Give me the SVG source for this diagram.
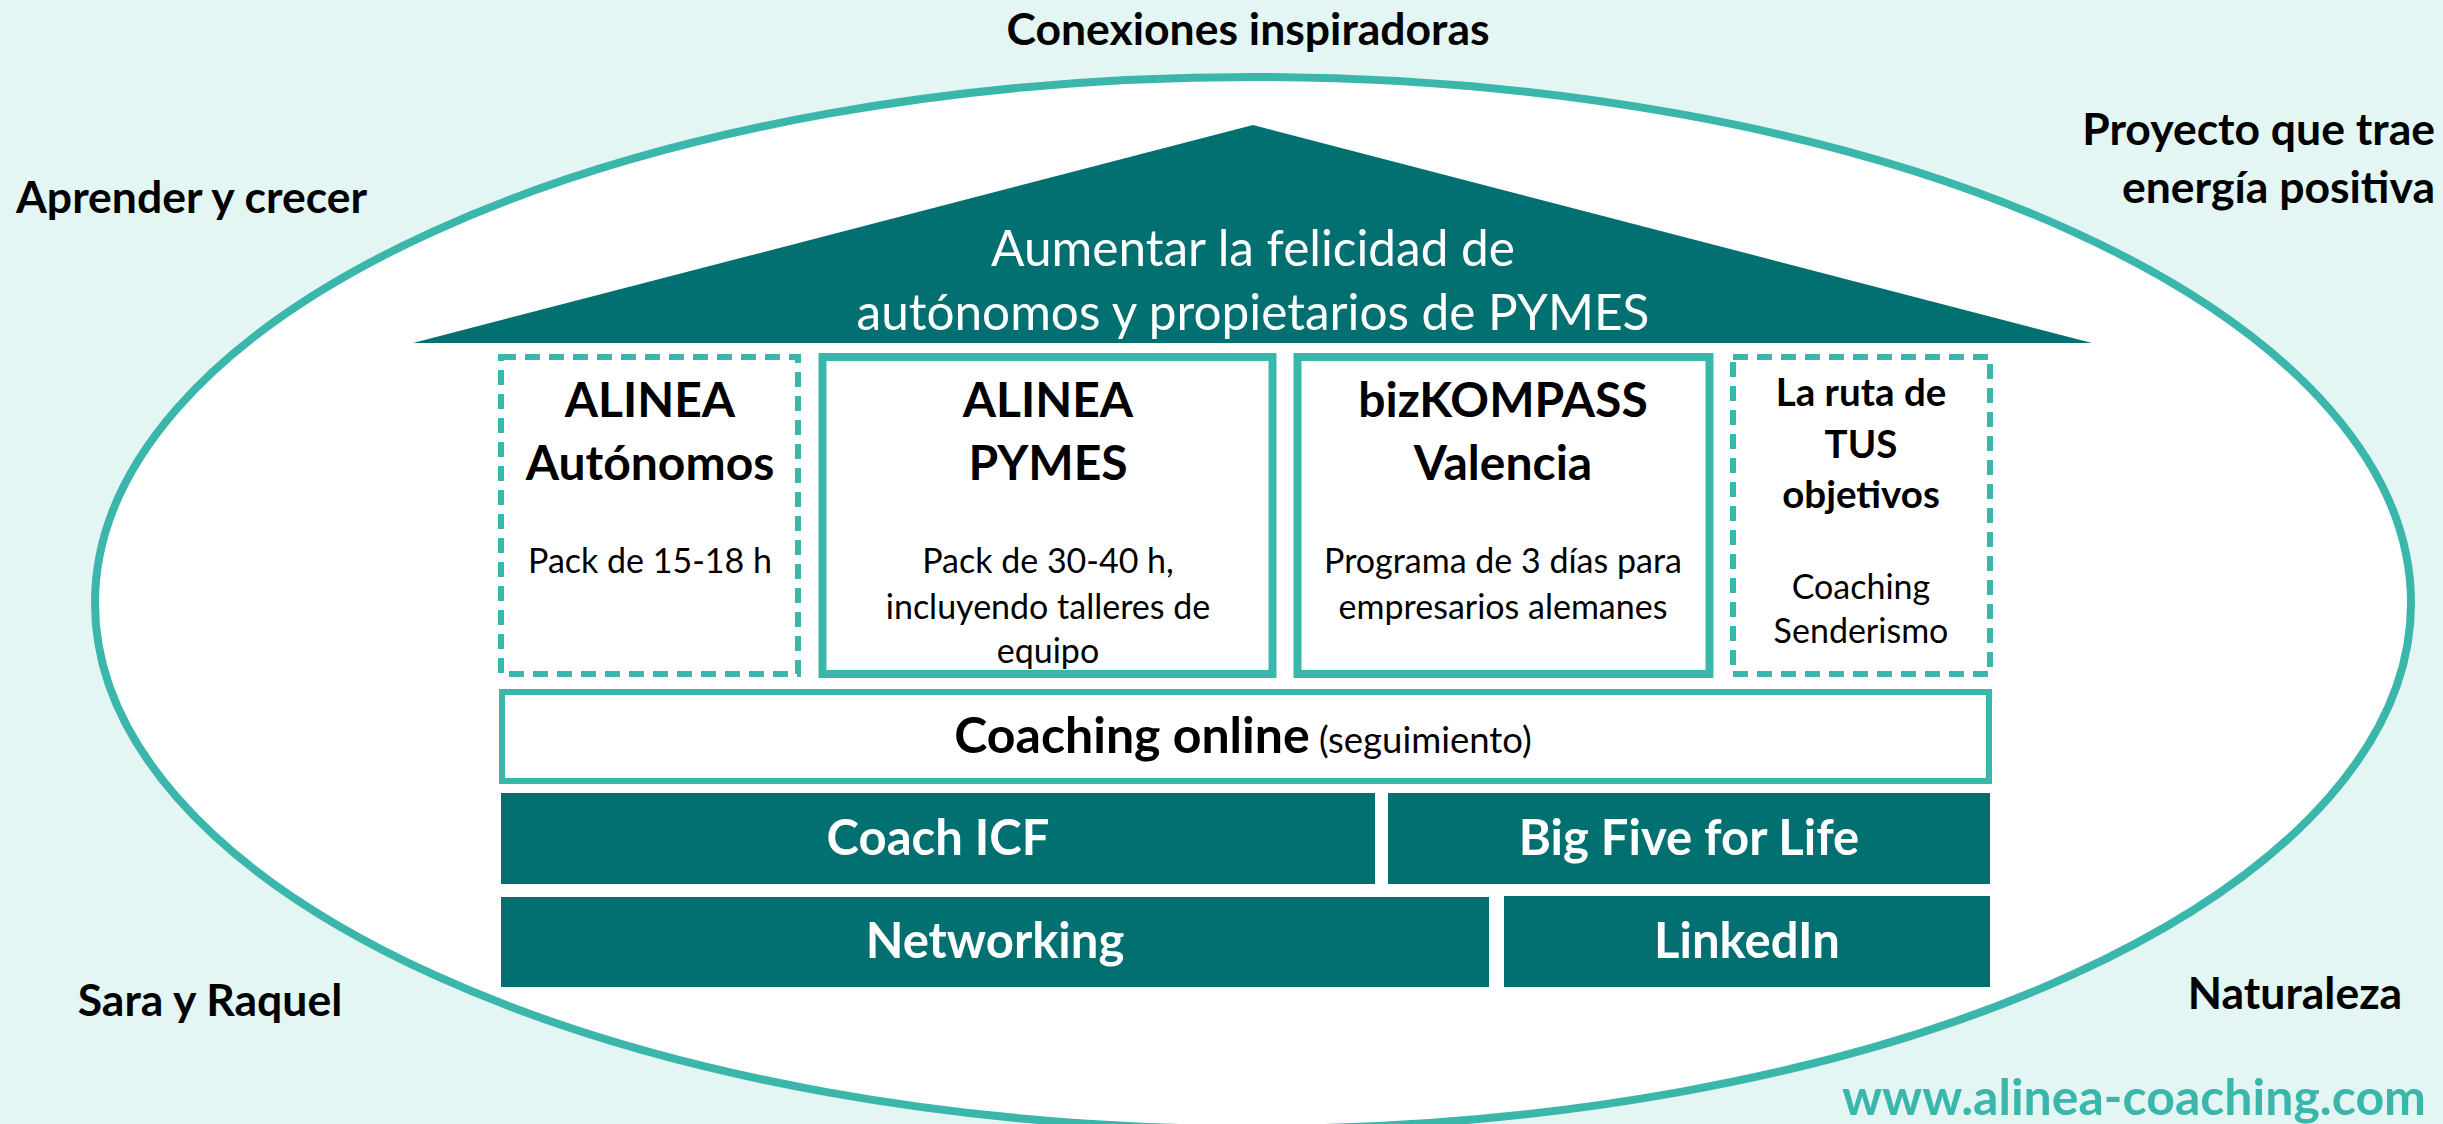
<svg xmlns="http://www.w3.org/2000/svg" width="2443" height="1124" viewBox="0 0 2443 1124">
<style>
text{font-family:Lato,"Open Sans","DejaVu Sans",sans-serif}
.b{font-weight:bold;fill:#000}
.r{font-weight:normal;fill:#000}
.lbl{font-size:44.5px}
.ttl{font-size:48px}
.sub{font-size:34px}
.wt{fill:#fff}
.dash{fill:#fff;stroke:#3AB6AB;stroke-width:6;stroke-dasharray:15 9}
.solid{fill:#fff;stroke:#3AB6AB;stroke-width:8}
.dark{fill:#026F71}
.dk{font-weight:bold;font-size:49px;fill:#fff}
</style>
<rect x="0" y="0" width="2443" height="1124" fill="#E3F6F3"/>
<g id="ellipse"><ellipse cx="1253" cy="603" rx="1158" ry="526" fill="#fff" stroke="#3AB6AB" stroke-width="8"/></g>
<g id="labels">
<text class="b lbl" x="1248" y="45" text-anchor="middle">Conexiones inspiradoras</text>
<text class="b lbl" x="16" y="213">Aprender y crecer</text>
<text class="b lbl" x="2435" y="145" text-anchor="end">Proyecto que trae</text>
<text class="b lbl" x="2435" y="203" text-anchor="end">energía positiva</text>
<text class="b lbl" x="210" y="1016" text-anchor="middle">Sara y Raquel</text>
<text class="b lbl" x="2295" y="1009" text-anchor="middle">Naturaleza</text>
<text x="2426" y="1115" text-anchor="end" font-weight="bold" font-size="50" fill="#3AB6AB">www.alinea-coaching.com</text>
</g>
<g id="roof">
<polygon class="dark" points="413,343 1253,125 2092,343"/>
<text class="wt" x="1253" y="266" text-anchor="middle" font-size="49.5">Aumentar la felicidad de</text>
<text class="wt" x="1253" y="330" text-anchor="middle" font-size="49.5">autónomos y propietarios de PYMES</text>
</g>
<g id="alinea-autonomos">
<rect class="dash" x="501" y="357" width="297" height="317"/>
<text class="b ttl" x="650" y="417" text-anchor="middle">ALINEA</text>
<text class="b ttl" x="650" y="480" text-anchor="middle">Autónomos</text>
<text class="r sub" x="650" y="573" text-anchor="middle">Pack de 15-18 h</text>
</g>
<g id="alinea-pymes">
<rect class="solid" x="822.5" y="357" width="450" height="317"/>
<text class="b ttl" x="1048" y="417" text-anchor="middle">ALINEA</text>
<text class="b ttl" x="1048" y="480" text-anchor="middle">PYMES</text>
<text class="r sub" x="1048" y="573" text-anchor="middle">Pack de 30-40 h,</text>
<text class="r sub" x="1048" y="619" text-anchor="middle">incluyendo talleres de</text>
<text class="r sub" x="1048" y="663" text-anchor="middle">equipo</text>
</g>
<g id="bizkompass">
<rect class="solid" x="1297.5" y="357" width="412" height="317"/>
<text class="b ttl" x="1503" y="417" text-anchor="middle">bizKOMPASS</text>
<text class="b ttl" x="1503" y="480" text-anchor="middle">Valencia</text>
<text class="r sub" x="1503" y="573" text-anchor="middle">Programa de 3 días para</text>
<text class="r sub" x="1503" y="619" text-anchor="middle">empresarios alemanes</text>
</g>
<g id="ruta">
<rect class="dash" x="1733" y="357" width="257" height="317"/>
<text class="b" x="1861" y="406" text-anchor="middle" font-size="38.5">La ruta de</text>
<text class="b" x="1861" y="458" text-anchor="middle" font-size="38.5">TUS</text>
<text class="b" x="1861" y="508" text-anchor="middle" font-size="38.5">objetivos</text>
<text class="r sub" x="1861" y="599" text-anchor="middle">Coaching</text>
<text class="r sub" x="1861" y="643" text-anchor="middle">Senderismo</text>
</g>
<g id="coaching-online">
<rect fill="#fff" stroke="#3AB6AB" stroke-width="6" x="502" y="692" width="1487" height="89"/>
<text x="1243" y="753" text-anchor="middle"><tspan class="b" font-size="50">Coaching online</tspan><tspan class="r" font-size="36.5"> (seguimiento)</tspan></text>
</g>
<g id="coach-icf">
<rect class="dark" x="501" y="793" width="874" height="91"/>
<text class="dk" x="938" y="855" text-anchor="middle">Coach ICF</text>
</g>
<g id="big-five">
<rect class="dark" x="1388" y="793" width="602" height="91"/>
<text class="dk" x="1689" y="855" text-anchor="middle">Big Five for Life</text>
</g>
<g id="networking">
<rect class="dark" x="501" y="897" width="988" height="90"/>
<text class="dk" x="995" y="958" text-anchor="middle">Networking</text>
</g>
<g id="linkedin">
<rect class="dark" x="1504" y="896" width="486" height="91"/>
<text class="dk" x="1747" y="958" text-anchor="middle">LinkedIn</text>
</g>
<g id="connectors"></g>
</svg>
